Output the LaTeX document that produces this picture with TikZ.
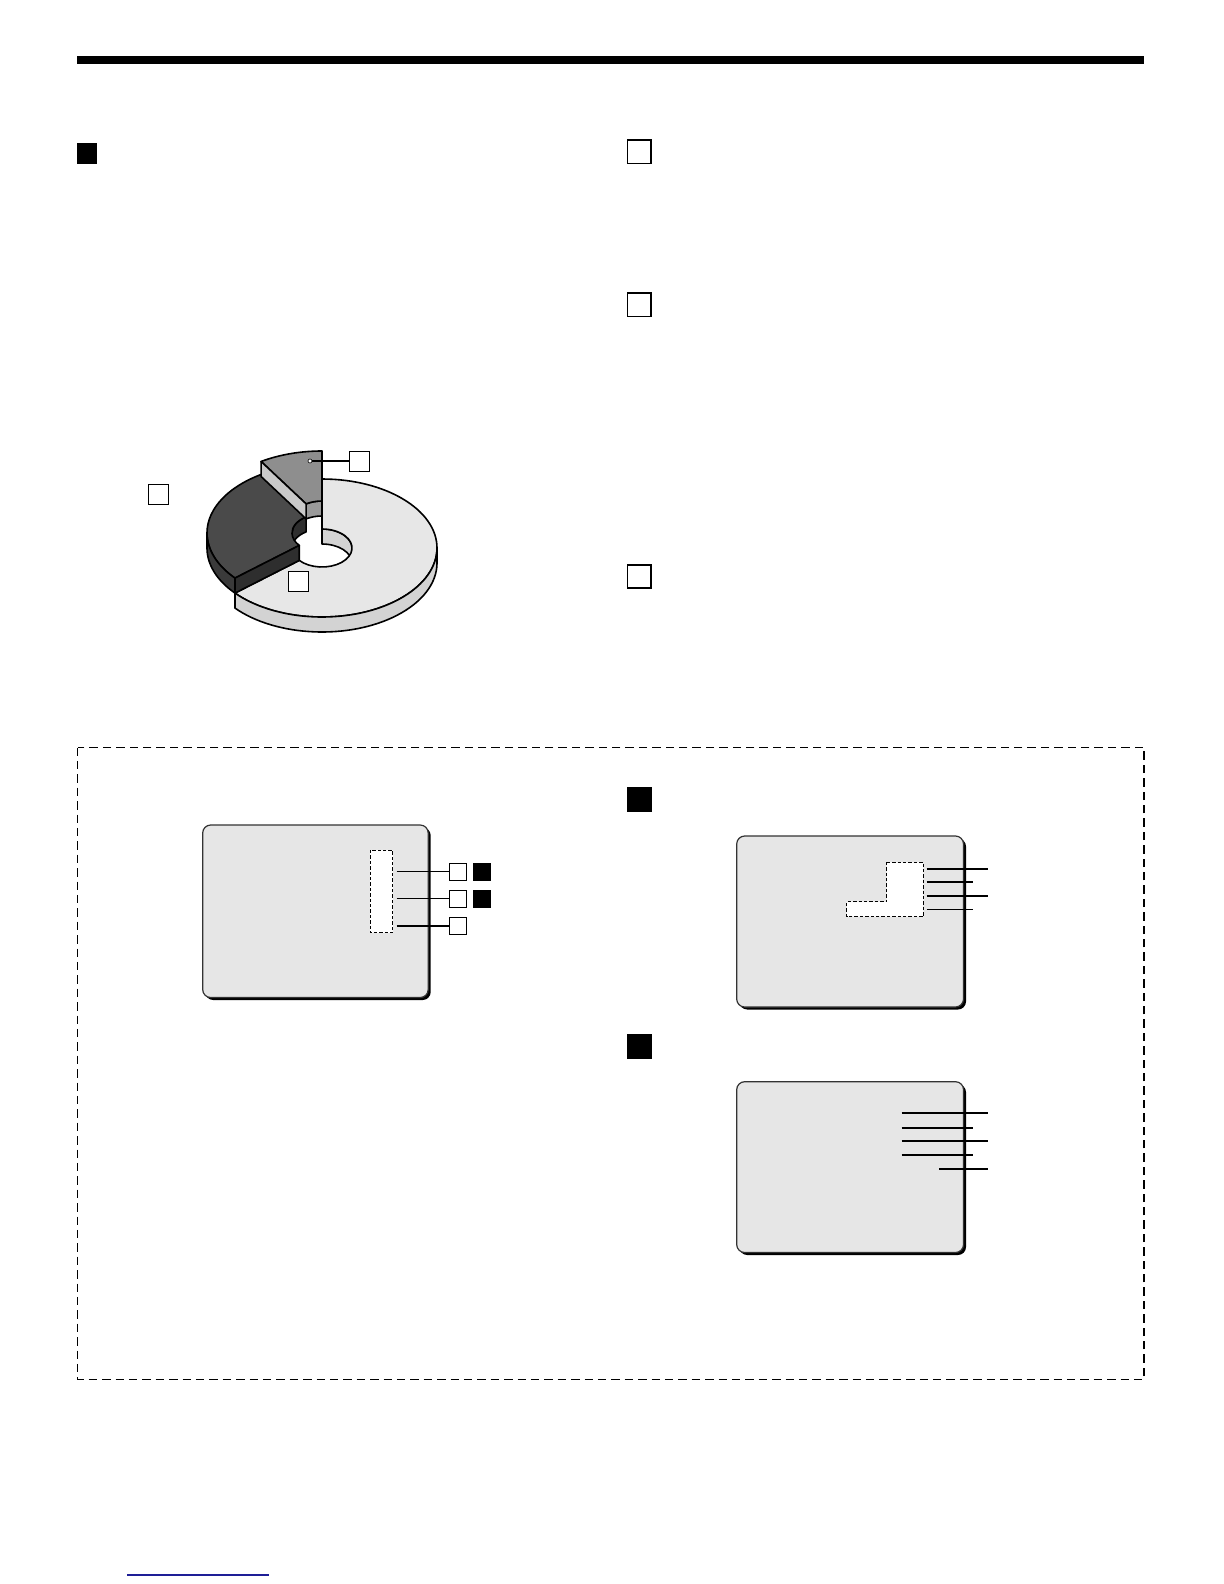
\documentclass[tikz,border=0pt]{standalone}
\usetikzlibrary{calc}
\definecolor{lighttop}{HTML}{E7E7E7}
\definecolor{lightside}{HTML}{D3D3D3}
\definecolor{darktop}{HTML}{4A4A4A}
\definecolor{darkside}{HTML}{3A3A3A}
\definecolor{darkface}{HTML}{2E2E2E}
\definecolor{medtop}{HTML}{8E8E8E}
\definecolor{medface}{HTML}{C9C9C9}
\definecolor{medwall}{HTML}{9A9A9A}
\definecolor{scrgray}{HTML}{E6E6E6}
\definecolor{linkblue}{HTML}{1E1E96}
\begin{document}
\begin{tikzpicture}[x=0.5pt,y=-0.5pt,
  hdopen/.style={draw, line width=0.8pt, fill=white, minimum size=11.7pt, inner sep=0pt},
  hdfill/.style={fill=black, minimum size=12.5pt, inner sep=0pt},
  hdsmall/.style={fill=black, minimum size=10.2pt, inner sep=0pt},
  pietag/.style={draw, line width=0.5pt, fill=white, minimum size=10pt, inner sep=0pt},
  smalltag/.style={draw, line width=0.5pt, fill=white, minimum size=8.5pt, inner sep=0pt},
  smallfill/.style={fill=black, minimum size=9pt, inner sep=0pt},
  leader/.style={line width=0.85pt},
  thinleader/.style={line width=0.55pt},
  screen/.style={fill=scrgray, draw=black!80, line width=0.6pt, rounded corners=4pt},
  scrshadow/.style={fill=black, rounded corners=4pt},
  hilite/.style={draw, fill=white, dash pattern=on 1.7pt off 1pt, line width=0.5pt},
  pieline/.style={draw=black, line width=0.8pt, line join=round}
]
\useasboundingbox (0,0) rectangle (1224,1584);

% top rule
\fill (77,56) rectangle (1144,64);

% heading squares
\node[hdsmall] (hL) at (87,153.5) {};
\node[hdopen] (hR1) at (639.2,151.7) {};
\node[hdopen] (hR2) at (639.2,304.7) {};
\node[hdopen] (hR3) at (639.2,576.5) {};

% ---------- pie chart ----------
\coordinate (LC) at (322,548);
\coordinate (DC) at (322,533);
\coordinate (MC) at (322,520);

% light sector: inner wall
\path[pieline, fill=lightside] ($(LC)+(-90:30 and 19)$) arc[start angle=-90,end angle=0,x radius=30,y radius=19]
  -- ++(0,15) arc[start angle=0,end angle=-90,x radius=30,y radius=19] -- cycle;
% light sector: top
\path[pieline, fill=lighttop] ($(LC)+(-90:115 and 69)$) arc[start angle=-90,end angle=139.2,x radius=115,y radius=69]
  -- ($(LC)+(139.2:30 and 19)$) arc[start angle=139.2,end angle=-90,x radius=30,y radius=19] -- cycle;
% light sector: outer wall
\path[pieline, fill=lightside] ($(LC)+(0:115 and 69)$) arc[start angle=0,end angle=139.2,x radius=115,y radius=69]
  -- ++(0,15) arc[start angle=139.2,end angle=0,x radius=115,y radius=69] -- cycle;

% dark sector: inner wall
\path[pieline, fill=darkface] ($(DC)+(180:30 and 19)$) arc[start angle=180,end angle=238,x radius=30,y radius=19]
  -- ++(0,15) arc[start angle=238,end angle=180,x radius=30,y radius=19] -- cycle;
% dark sector: top
\path[pieline, fill=darktop] ($(DC)+(139.2:115 and 69)$) arc[start angle=139.2,end angle=238,x radius=115,y radius=69]
  -- ($(DC)+(238:30 and 19)$) arc[start angle=238,end angle=139.2,x radius=30,y radius=19] -- cycle;
% dark sector: outer wall
\path[pieline, fill=darkside] ($(DC)+(139.2:115 and 69)$) arc[start angle=139.2,end angle=180,x radius=115,y radius=69]
  -- ++(0,15) arc[start angle=180,end angle=139.2,x radius=115,y radius=69] -- cycle;
% dark sector: radial face
\path[pieline, fill=darkface] ($(DC)+(139.2:115 and 69)$) -- ($(DC)+(139.2:30 and 19)$)
  -- ++(0,15) -- ($(DC)+(139.2:115 and 69)+(0,15)$) -- cycle;

% medium sector: inner wall
\path[pieline, fill=medwall] ($(MC)+(238:30 and 19)$) arc[start angle=238,end angle=270,x radius=30,y radius=19]
  -- ++(0,15) arc[start angle=270,end angle=238,x radius=30,y radius=19] -- cycle;
% medium sector: top
\path[pieline, fill=medtop] ($(MC)+(238:115 and 69)$) arc[start angle=238,end angle=270,x radius=115,y radius=69]
  -- ($(MC)+(270:30 and 19)$) arc[start angle=270,end angle=238,x radius=30,y radius=19] -- cycle;
% medium sector: radial face
\path[pieline, fill=medface] ($(MC)+(238:115 and 69)$) -- ($(MC)+(238:30 and 19)$)
  -- ++(0,15) -- ($(MC)+(238:115 and 69)+(0,15)$) -- cycle;

% pie labels
\node[pietag] (pA) at (359.5,461) {};
\node[pietag] (pB) at (158.5,494.5) {};
\node[pietag] (pC) at (298.5,581.5) {};
\coordinate (pdot) at (310,461);
\draw[leader] (pdot) -- (pA.west);
\filldraw[fill=white, draw=black, line width=0.3pt] (pdot) circle (2);

% ---------- dashed frame ----------
\draw[line width=0.65pt, dash pattern=on 4.2pt off 2.5pt] (77.5,747.5) rectangle (1144,1379.5);

% screen 1
\fill[scrshadow] (205.2,827.5) rectangle (430.7,1000);
\draw[screen] (202.7,825) rectangle (428.2,997.5);
\draw[hilite] (370,850) rectangle (392.7,932.7);
\node[smalltag] (s1a) at (458.3,871.5) {};
\node[smallfill] (s1A) at (482.2,871.5) {};
\node[smalltag] (s1b) at (458.3,898.5) {};
\node[smallfill] (s1B) at (482.2,898.5) {};
\node[smalltag] (s1c) at (458.3,925.7) {};
\coordinate (s1la) at (396.7,871.5);
\coordinate (s1lb) at (396.7,898.5);
\coordinate (s1lc) at (396.7,925.7);
\draw[leader] (s1la) -- (s1a.west);
\draw[thinleader] (s1lb) -- (s1b.west);
\draw[leader] (s1lc) -- (s1c.west);

% heading black squares in frame
\node[hdfill] (hF1) at (639.2,799.2) {};
\node[hdfill] (hF2) at (639.2,1046.2) {};

% screen 2
\fill[scrshadow] (739.2,838.5) rectangle (966,1009.5);
\draw[screen] (736.7,836) rectangle (963.5,1007);
\draw[hilite] (886.7,862.3) -- (923.3,862.3) -- (923.3,916.7) -- (846.7,916.7)
  -- (846.7,901.7) -- (886.7,901.7) -- cycle;
\coordinate (s2a0) at (926.7,869);    \coordinate (s2a1) at (988.3,869);
\coordinate (s2b0) at (926.7,881.7);  \coordinate (s2b1) at (972.7,881.7);
\coordinate (s2c0) at (926.7,896);    \coordinate (s2c1) at (988.3,896);
\coordinate (s2d0) at (926.7,909.3);  \coordinate (s2d1) at (972.7,909.3);
\draw[leader] (s2a0) -- (s2a1);
\draw[leader] (s2b0) -- (s2b1);
\draw[leader] (s2c0) -- (s2c1);
\draw[thinleader] (s2d0) -- (s2d1);

% screen 3
\fill[scrshadow] (739.2,1084.2) rectangle (966,1255);
\draw[screen] (736.7,1081.7) rectangle (963.5,1252.5);
\coordinate (s3a0) at (901.7,1113.3); \coordinate (s3a1) at (988.3,1113.3);
\coordinate (s3b0) at (901.7,1127.7); \coordinate (s3b1) at (972.7,1127.7);
\coordinate (s3c0) at (901.7,1141);   \coordinate (s3c1) at (988.3,1141);
\coordinate (s3d0) at (901.7,1155);   \coordinate (s3d1) at (972.7,1155);
\coordinate (s3e0) at (939.3,1168.7); \coordinate (s3e1) at (988.3,1168.7);
\draw[leader] (s3a0) -- (s3a1);
\draw[leader] (s3b0) -- (s3b1);
\draw[leader] (s3c0) -- (s3c1);
\draw[leader] (s3d0) -- (s3d1);
\draw[leader] (s3e0) -- (s3e1);

% link line at bottom
\coordinate (lk0) at (127,1575);
\coordinate (lk1) at (269,1575);
\draw[linkblue, line width=0.65pt] (lk0) -- (lk1);
\end{tikzpicture}
\end{document}
